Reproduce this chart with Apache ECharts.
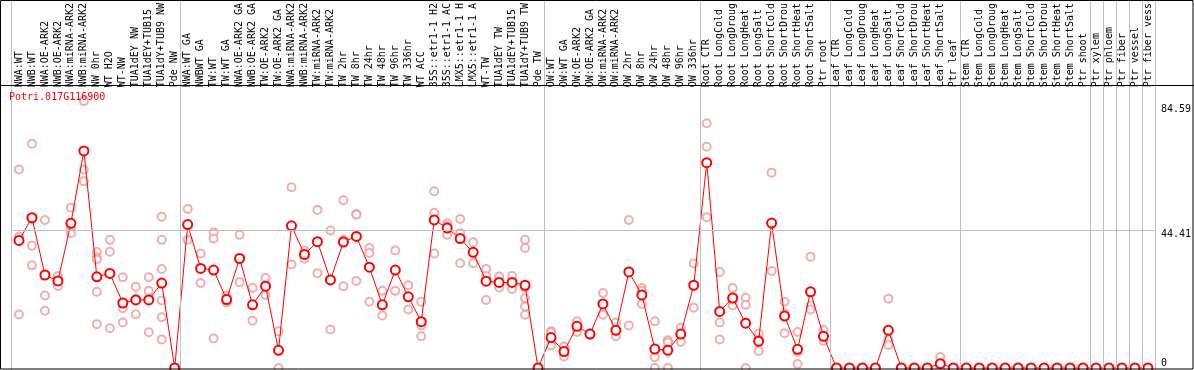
<!DOCTYPE html>
<html><head><meta charset="utf-8">
<script src="https://cdn.jsdelivr.net/npm/echarts@6/dist/echarts.min.js"></script>
<style>html,body{margin:0;padding:0;background:#fff}#c{width:1194px;height:370px}</style>
</head><body><div id="c"></div>
<script>
var title = 'Potri.017G116900';
var categories = [
 'NWA:WT','NWB:WT','NWA:OE-ARK2','NWB:OE-ARK2','NWA:miRNA-ARK2','NWB:miRNA-ARK2','NW 0hr','WT H2O','WT-NW','TUA1dEY NW','TUA1dEY+TUB15','TUA1dY+TUB9 NW','Pde NW',
 'NWA:WT GA','NWBWT GA','TW:WT','TW:WT GA','NWA:OE-ARK2 GA','NWB:OE-ARK2 GA','TW:OE-ARK2','TW:OE-ARK2 GA','NWA:miRNA-ARK2','NWB:miRNA-ARK2','TW:miRNA-ARK2','TW:miRNA-ARK2','TW 2hr','TW 8hr','TW 24hr','TW 48hr','TW 96hr','TW 336hr','WT ACC','35S::etr1-1 H2','35S::etr1-1 AC','LMX5::etr1-1 H','LMX5::etr1-1 A','WT-TW','TUA1dEY TW','TUA1dEY+TUB15','TUA1dY+TUB9 TW','Pde TW',
 'OW:WT','OW:WT GA','OW:OE-ARK2','OW:OE-ARK2 GA','OW:miRNA-ARK2','OW:miRNA-ARK2','OW 2hr','OW 8hr','OW 24hr','OW 48hr','OW 96hr','OW 336hr',
 'Root CTR','Root LongCold','Root LongDroug','Root LongHeat','Root LongSalt','Root ShortCold','Root ShortDrou','Root ShortHeat','Root ShortSalt','Ptr root',
 'Leaf CTR','Leaf LongCold','Leaf LongDroug','Leaf LongHeat','Leaf LongSalt','Leaf ShortCold','Leaf ShortDrou','Leaf ShortHeat','Leaf ShortSalt','Ptr leaf',
 'Stem CTR','Stem LongCold','Stem LongDroug','Stem LongHeat','Stem LongSalt','Stem ShortCold','Stem ShortDrou','Stem ShortHeat','Stem ShortSalt','Ptr shoot',
 'Ptr xylem','Ptr phloem','Ptr fiber','Ptr vessel','Ptr fiber vess'
];
var meanValues = [
 41.0,48.3,29.9,28.0,46.5,69.8,29.3,30.4,20.9,21.9,21.9,27.3,0,
 46.1,32.0,31.5,22.0,35.2,20.3,26.3,5.7,45.7,36.5,40.6,28.3,40.5,42.3,32.4,20.3,31.5,22.9,14.9,47.6,45.0,41.6,37.2,27.9,27.5,27.5,26.6,0,
 9.8,5.3,13.4,10.9,20.6,12.1,30.9,23.5,6.1,5.7,10.9,26.6,
 66.0,18.2,22.5,14.4,8.6,46.6,16.7,6.0,24.5,10.2,
 0,0,0,0,12.1,0,0,0,1.4,0,
 0,0,0,0,0,0,0,0,0,0,
 0,0,0,0,0
];
var replicateValues = [
 [63.8,42.3,17.2],[72.1,39.3,33.0],[47.6,23.3,18.4],[29.6,28.0,26.4],[51.5,44.9,43.3],[85.8,63.8,60.0],[37.3,35.5,34.9,24.5,14.1],[41.2,37.4,12.8],[29.2,19.2,14.6],[26.1,22.2,17.3],[29.2,24.8,11.5],[48.6,41.2,31.8,21.7,16.3,9.2],[0,0,0],
 [51.1,41.2],[36.8,27.3],[43.6,41.6,9.5],[23.3,21.8,21.1],[42.8,27.6],[25.7,15.2],[28.9,23.5],[11.8,0],[58.1,33.3],[37.8,35.1],[50.8,30.5],[44.2,12.4],[53.9,41.2,26.3],[49.5,49.3,28.0],[38.6,37.0,21.3],[24.8,16.9],[37.8,24.8],[26.6,18.8],[21.3,13.7,10.2],[56.8,49.9,36.8],[46.5,45.6,42.8],[47.9,43.3,33.7],[40.4,33.7],[31.8,29.6,21.9],[29.4,25.9],[29.6,25.4],[41.2,38.6,25.9,22.4,19.8,17.1],[0,0],
 [11.8,11.4,7.2],[6.9,3.7],[15.0,11.6],[11.1,10.7],[24.1,17.1],[14.6,10.2],[47.6,13.7],[25.7,24.8,20.6],[15.0,3.5,0],[8.9,8.2,0],[12.9,8.4],[33.6,19.4],
 [78.7,71.1,48.5],[30.9,14.6,9.2],[25.7,21.7,20.1],[22.6,20.3,0],[11.1,9.2,5.5],[62.8,31.2],[21.3,17.6,11.2],[11.6,5.2,1.3],[35.8,20.1,18.8],[12.2,8.7],
 [0,0],[0,0],[0,0],[0,0],[22.3,9.0,7.4],[0,0],[0,0],[0,0],[3.5,0.7,0],[0,0],
 [0,0],[0,0],[0,0],[0,0],[0,0],[0,0],[0,0],[0,0],[0,0],[0,0],
 [0,0],[0,0],[0,0],[0,0],[0,0]
];
var groupBoundaries = [0,13,41,53,63,73,83,84,85,86,87,88];
var yTickValues = [0,44.41,84.59];
var yTickLabels = ['0','44.41','84.59'];

var mono = 'DejaVu Sans Mono';
var repData = [];
replicateValues.forEach(function(arr,i){arr.forEach(function(v){repData.push([i,v]);});});
function tickLabel(v){var k=yTickValues.indexOf(v);return k>=0?yTickLabels[k]:'';}

var chart = echarts.init(document.getElementById('c'), null, {renderer:'canvas'});
var yMax = 89.6;
chart.setOption({
  animation:false,
  backgroundColor:'#fff',
  title:{text:title,left:9,top:92,padding:0,textStyle:{color:'#ff0000',fontSize:10,fontWeight:'normal',fontFamily:mono}},
  grid:[
    {left:12.5,top:86,width:1144,height:282},
    {left:11,top:0,width:1144,height:370}
  ],
  xAxis:[
    {type:'category',gridIndex:0,position:'top',data:categories,boundaryGap:true,
     axisLine:{show:false},axisTick:{show:false},splitLine:{show:false},
     axisLabel:{interval:0,rotate:90,margin:2,fontSize:10,fontFamily:mono,color:'#000'}},
    {type:'value',gridIndex:1,min:0,max:88,show:false}
  ],
  yAxis:[
    {type:'value',gridIndex:0,min:0,max:yMax,position:'right',
     axisLine:{show:false},axisTick:{show:false},splitLine:{show:false},
     axisLabel:{customValues:yTickValues.slice(1),verticalAlign:'top',margin:6.5,fontSize:10,fontFamily:mono,color:'#000',formatter:tickLabel}},
    {type:'value',gridIndex:0,min:0,max:yMax,position:'right',
     axisLine:{show:false},axisTick:{show:false},splitLine:{show:false},
     axisLabel:{customValues:yTickValues.slice(0,1),verticalAlign:'bottom',margin:6.5,fontSize:10,fontFamily:mono,color:'#000',formatter:tickLabel}},
    {type:'value',gridIndex:1,min:0,max:1,show:false}
  ],
  series:[
    {type:'scatter',xAxisIndex:1,yAxisIndex:2,data:[[0,0.5]],symbolSize:0,silent:true,z:1,
     markLine:{silent:true,symbol:['none','none'],label:{show:false},
       lineStyle:{color:'#c0c0c0',width:1,type:'solid'},
       data:groupBoundaries.map(function(b){return {xAxis:b};})}},
    {type:'scatter',xAxisIndex:0,yAxisIndex:0,data:repData,symbol:'emptyCircle',symbolSize:8,z:3,
     itemStyle:{color:'#ee9a9a',borderColor:'#ee9a9a',borderWidth:1}},
    {type:'line',xAxisIndex:0,yAxisIndex:0,data:meanValues,symbol:'emptyCircle',symbolSize:9,z:4,
     lineStyle:{color:'#ff0000',width:1},itemStyle:{color:'#ff0000',borderColor:'#ff0000',borderWidth:1.5},
     markLine:{silent:true,symbol:['none','none'],label:{show:false},
       lineStyle:{color:'#c0c0c0',width:1,type:'solid'},data:[{yAxis:yTickValues[1]}]}}
  ],
  graphic:[
    {type:'rect',shape:{x:0.5,y:0.5,width:1192.5,height:368.5},style:{fill:null,stroke:'#000',lineWidth:1},z:100,silent:true},
    {type:'line',shape:{x1:0,y1:85.5,x2:1194,y2:85.5},style:{stroke:'#000',lineWidth:1},z:100,silent:true}
  ]
});
</script></body></html>
